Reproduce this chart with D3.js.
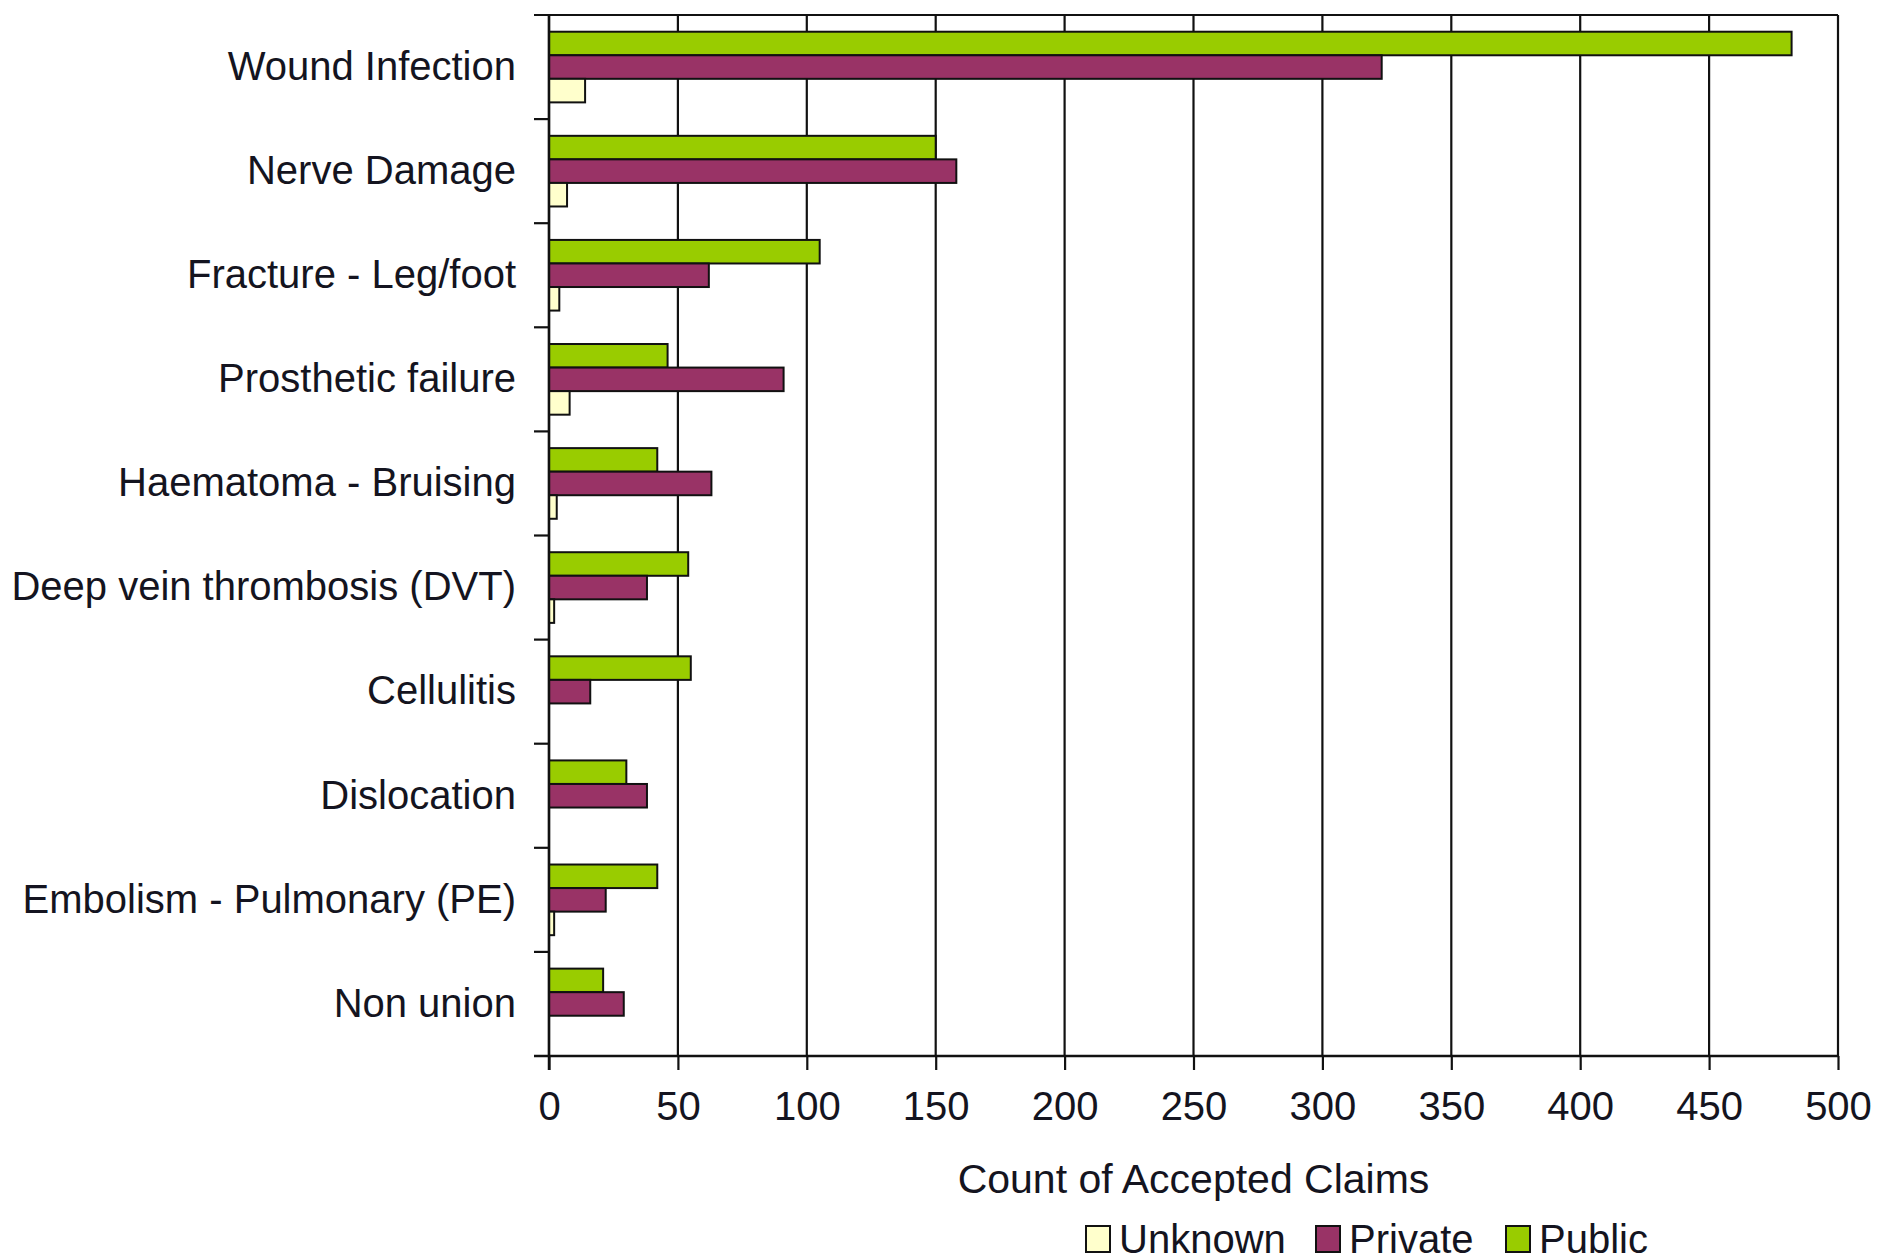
<!DOCTYPE html>
<html>
<head>
<meta charset="utf-8">
<script src="https://cdn.jsdelivr.net/npm/d3@7"></script>
<style>
  body { margin: 0; background: #fff; }
  svg text { font-family: "Liberation Sans", Arial, sans-serif; fill: #141420; }
</style>
</head>
<body>
<div id="chart"></div>
<script>
const categories = [
    'Wound Infection',
    'Nerve Damage',
    'Fracture - Leg/foot',
    'Prosthetic failure',
    'Haematoma - Bruising',
    'Deep vein thrombosis (DVT)',
    'Cellulitis',
    'Dislocation',
    'Embolism - Pulmonary (PE)',
    'Non union'
];
const publicVals = [482, 150, 105, 46, 42, 54, 55, 30, 42, 21];
const privateVals = [323, 158, 62, 91, 63, 38, 16, 38, 22, 29];
const unknownVals = [14, 7, 4, 8, 3, 2, 0, 0, 2, 0];
const seriesNames = ['Public', 'Private', 'Unknown'];
const legendOrder = ['Unknown', 'Private', 'Public'];
const xTicks = [0, 50, 100, 150, 200, 250, 300, 350, 400, 450, 500];

const COLORS = { Public: '#99cc00', Private: '#993366', Unknown: '#ffffcc' };
const W = 1880, H = 1260;
const M = { top: 15, right: 42, bottom: 204, left: 549 };
const iw = W - M.left - M.right;
const ih = H - M.top - M.bottom;

const valuesBySeries = { Public: publicVals, Private: privateVals, Unknown: unknownVals };
const rows = categories.map((c, i) => ({
    cat: c,
    vals: seriesNames.map(s => ({ key: s, value: valuesBySeries[s][i] }))
}));

const svg = d3.select('#chart').append('svg')
    .attr('width', W).attr('height', H);
const g = svg.append('g').attr('transform', `translate(${M.left},${M.top})`);

const x = d3.scaleLinear().domain([0, 500]).range([0, iw]);
const y = d3.scaleBand().domain(categories).range([0, ih]).padding(0);
const ySub = d3.scaleBand().domain(seriesNames).range([0, y.bandwidth()]).paddingInner(0).paddingOuter(0.71);

// vertical gridlines
g.append('g')
    .selectAll('line')
    .data(xTicks)
    .enter().append('line')
    .attr('x1', d => x(d)).attr('x2', d => x(d))
    .attr('y1', 0).attr('y2', ih)
    .attr('stroke', '#111').attr('stroke-width', 2.2);

// top border with small tick to the left
g.append('line')
    .attr('x1', -15).attr('x2', iw).attr('y1', 0).attr('y2', 0)
    .attr('stroke', '#111').attr('stroke-width', 2.2);

// bars
const groups = g.selectAll('.grp')
    .data(rows)
    .enter().append('g')
    .attr('class', 'grp')
    .attr('transform', d => `translate(0,${y(d.cat)})`);

groups.selectAll('rect')
    .data(d => d.vals.filter(v => v.value > 0))
    .enter().append('rect')
    .attr('x', x(0))
    .attr('y', d => ySub(d.key))
    .attr('width', d => x(d.value) - x(0))
    .attr('height', ySub.bandwidth())
    .attr('fill', d => COLORS[d.key])
    .attr('stroke', '#111')
    .attr('stroke-width', 2);

// y axis: labels at centres, ticks at band boundaries
const yAxis = g.append('g').call(d3.axisLeft(y).tickSize(0).tickPadding(33));
yAxis.select('.domain').remove();
yAxis.selectAll('text').style('font-size', '40px');

g.append('g')
    .selectAll('line')
    .data(categories.slice(1))
    .enter().append('line')
    .attr('x1', -15).attr('x2', 0)
    .attr('y1', d => y(d)).attr('y2', d => y(d))
    .attr('stroke', '#111').attr('stroke-width', 2.2);

g.append('line')
    .attr('x1', 0).attr('x2', 0).attr('y1', 0).attr('y2', ih + 14)
    .attr('stroke', '#111').attr('stroke-width', 2.5);

// x axis
const xAxis = g.append('g')
    .attr('transform', `translate(0,${ih})`)
    .call(d3.axisBottom(x).tickValues(xTicks).tickSize(14).tickPadding(22).tickSizeOuter(0));
xAxis.select('.domain').remove();
xAxis.selectAll('.tick line').attr('stroke', '#111').attr('stroke-width', 2.2);
xAxis.selectAll('text').style('font-size', '40px');
xAxis.append('line')
    .attr('x1', -15).attr('x2', iw).attr('y1', 0).attr('y2', 0)
    .attr('stroke', '#111').attr('stroke-width', 2.5);

// axis title
svg.append('text')
    .attr('x', M.left + iw / 2)
    .attr('y', 1193)
    .attr('text-anchor', 'middle')
    .style('font-size', '41px')
    .text('Count of Accepted Claims');

// legend
const legendX = [1086, 1316, 1506];
const legend = svg.append('g').selectAll('g')
    .data(legendOrder)
    .enter().append('g')
    .attr('transform', (d, i) => `translate(${legendX[i]},1226)`);
legend.append('rect')
    .attr('width', 24).attr('height', 26)
    .attr('fill', d => COLORS[d])
    .attr('stroke', '#111').attr('stroke-width', 2);
legend.append('text')
    .attr('x', 33).attr('y', 13)
    .attr('dy', '0.35em')
    .style('font-size', '40px')
    .text(d => d);
</script>
</body>
</html>
